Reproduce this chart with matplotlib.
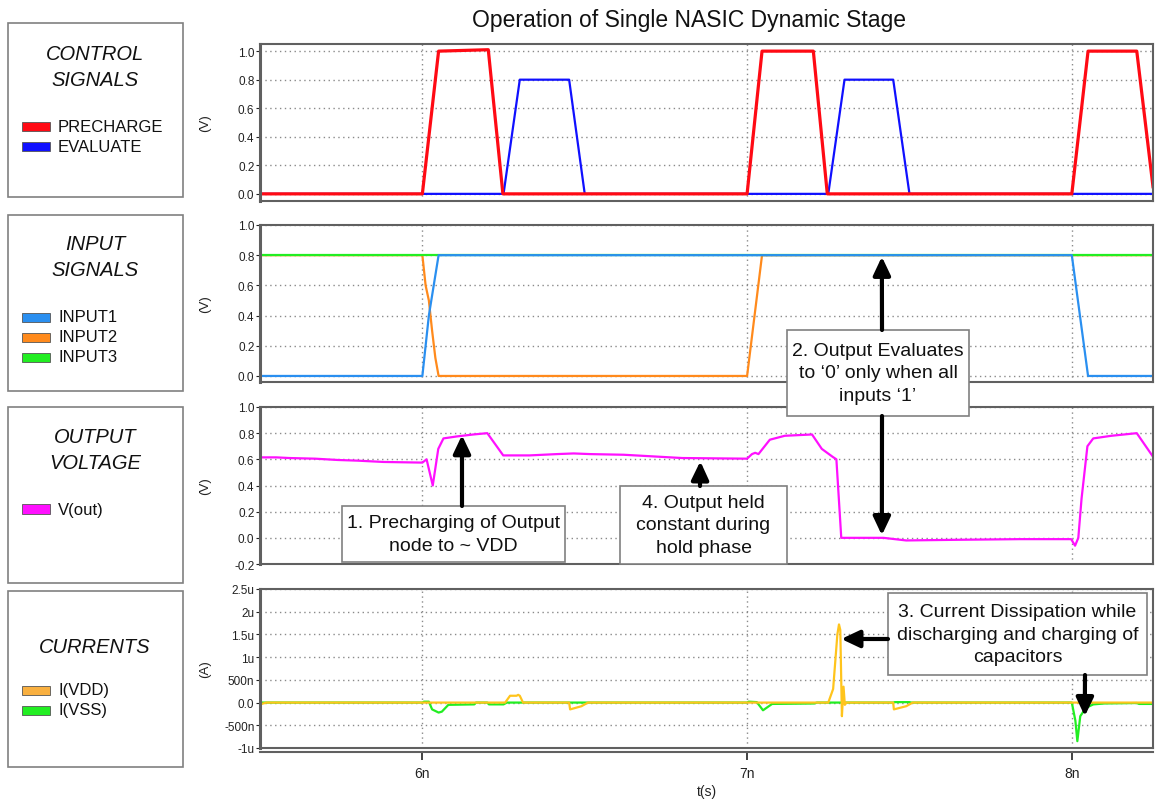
import matplotlib
matplotlib.use('Agg')
import matplotlib.pyplot as plt
from matplotlib.patches import Rectangle, ConnectionPatch

plt.rcParams['font.family'] = ['Liberation Sans', 'DejaVu Sans']

# ---- data (time in ns) ----
pre_t = [5.5, 6.0, 6.05, 6.203, 6.248, 7.0, 7.046, 7.204, 7.247, 8.0, 8.05, 8.2, 8.25]
pre_v = [0.0, 0.0, 1.0, 1.01, 0.0, 0.0, 1.0, 1.0, 0.0, 0.0, 1.0, 1.0, 0.05]
eval_t = [5.5, 5.503, 6.25, 6.30, 6.452, 6.50, 7.25, 7.30, 7.45, 7.50, 8.25]
eval_v = [0.1, 0.0, 0.0, 0.8, 0.8, 0.0, 0.0, 0.8, 0.8, 0.0, 0.0]

in1_t = [5.5, 6.0, 6.01, 6.02, 6.035, 6.05, 8.0, 8.05, 8.25]
in1_v = [0.0, 0.0, 0.2, 0.4, 0.6, 0.8, 0.8, 0.0, 0.0]
in2_t = [5.5, 6.0, 6.005, 6.01, 6.02, 6.03, 6.04, 6.05, 7.0, 7.046, 8.25]
in2_v = [0.8, 0.8, 0.7, 0.6, 0.5, 0.3, 0.12, 0.0, 0.0, 0.8, 0.8]
in3_t = [5.5, 8.25]
in3_v = [0.8, 0.8]

vout_t = [5.5, 5.55, 5.59, 5.67, 5.74, 5.80, 5.88, 6.0, 6.013, 6.032,
          6.049, 6.065, 6.106, 6.157, 6.2, 6.249, 6.33, 6.414, 6.466, 6.517,
          6.62, 6.80, 7.0, 7.015, 7.025, 7.035, 7.07, 7.116, 7.20, 7.23,
          7.263, 7.275, 7.29, 7.42, 7.49, 7.647, 7.84, 7.998, 8.01, 8.02,
          8.03, 8.048, 8.066, 8.122, 8.2, 8.25]
vout_v = [0.615, 0.615, 0.61, 0.605, 0.595, 0.59, 0.58, 0.575, 0.6, 0.4,
          0.68, 0.76, 0.775, 0.79, 0.8, 0.63, 0.63, 0.64, 0.645, 0.64,
          0.635, 0.61, 0.605, 0.64, 0.65, 0.64, 0.75, 0.78, 0.79, 0.68,
          0.62, 0.6, 0.0, 0.0, -0.02, -0.015, -0.01, -0.01, -0.06, 0.0,
          0.3, 0.7, 0.76, 0.78, 0.80, 0.62]

# currents in uA
idd_t = [5.5, 5.505, 5.52, 6.255, 6.27, 6.29, 6.295, 6.30, 6.31, 6.452,
         6.455, 6.49, 6.505, 6.51, 7.25, 7.265, 7.278, 7.283, 7.287, 7.292,
         7.297, 7.301, 7.306, 7.45, 7.452, 7.49, 7.505, 7.51, 8.25]
idd_v = [-0.05, -0.03, 0.0, 0.0, 0.15, 0.15, 0.17, 0.15, 0.0, 0.0,
         -0.15, -0.08, -0.02, 0.0, 0.0, 0.3, 1.5, 1.72, 1.6, -0.3,
         0.35, -0.05, 0.0, 0.0, -0.15, -0.08, -0.02, 0.0, 0.0]
iss_t = [5.5, 5.505, 5.51, 6.0, 6.005, 6.02, 6.03, 6.05, 6.06, 6.08,
         6.16, 6.165, 6.2, 6.205, 6.25, 6.26, 6.5, 7.0, 7.005, 7.03,
         7.049, 7.077, 7.207, 7.215, 7.45, 7.455, 7.5, 7.505, 8.0, 8.011,
         8.017, 8.026, 8.043, 8.066, 8.10, 8.2, 8.207, 8.25]
iss_v = [0.05, 0.0, 0.0, 0.0, 0.02, 0.02, -0.15, -0.22, -0.2, -0.05,
         -0.04, 0.0, 0.0, -0.04, -0.04, 0.0, 0.0, 0.0, 0.02, 0.01,
         -0.17, -0.03, -0.02, 0.0, 0.0, 0.01, 0.01, 0.0, 0.0, -0.4,
         -0.85, -0.3, -0.12, -0.04, -0.02, -0.01, -0.03, -0.03]

x_ticks = [6, 7, 8]
x_labels = ['6n', '7n', '8n']
v_ticks = [0.0, 0.2, 0.4, 0.6, 0.8, 1.0]
vout_ticks = [-0.2, 0.0, 0.2, 0.4, 0.6, 0.8, 1.0]
cur_ticks = [-1, -0.5, 0, 0.5, 1, 1.5, 2, 2.5]
cur_labels = ['-1u', '-500n', '0.0', '500n', '1u', '1.5u', '2u', '2.5u']

W, H = 1155, 803
fig = plt.figure(figsize=(W / 100, H / 100), dpi=100)


def fx(x):
    return x / W


def fy(y):
    return 1 - y / H


def make_ax(top, bottom):
    ax = fig.add_axes([fx(260), fy(bottom), fx(1153) - fx(260), fy(top) - fy(bottom)])
    ax.set_xlim(5.5, 8.25)
    ax.set_xticks(x_ticks)
    ax.grid(True, color='#8a8a8a', linestyle=(0, (1, 2.5)), linewidth=1)
    for s in ax.spines.values():
        s.set_color('#606060')
        s.set_linewidth(1.5)
    ax.spines['left'].set_linewidth(2.2)
    ax.tick_params(axis='y', length=3, pad=1, labelsize=8.5, colors='#222222')
    ax.tick_params(axis='x', length=0, labelbottom=False)
    return ax


ax1 = make_ax(45, 202)
ax1.plot(eval_t, eval_v, color='#1010ff', lw=1.6)
ax1.plot(pre_t, pre_v, color='#ff0a14', lw=2.3)
ax1.set_ylim(-0.05, 1.05)
ax1.set_yticks(v_ticks)
ax1.set_yticklabels(['%.1f' % v for v in v_ticks])

ax2 = make_ax(226, 383)
ax2.plot(in2_t, in2_v, color='#ff8a1c', lw=1.6)
ax2.plot(in3_t, in3_v, color='#22ee22', lw=1.6)
ax2.plot(in1_t, in1_v, color='#2a8ff0', lw=1.6)
ax2.set_ylim(-0.04, 1.0)
ax2.set_yticks(v_ticks)
ax2.set_yticklabels(['%.1f' % v for v in v_ticks])

ax3 = make_ax(408, 565)
ax3.plot(vout_t, vout_v, color='#ff10ff', lw=1.6)
ax3.set_ylim(-0.2, 1.0)
ax3.set_yticks(vout_ticks)
ax3.set_yticklabels(['%.1f' % v for v in vout_ticks])

ax4 = make_ax(590, 749)
ax4.plot(iss_t, iss_v, color='#22ee22', lw=1.6)
ax4.plot(idd_t, idd_v, color='#ffc41c', lw=1.6)
ax4.set_ylim(-1, 2.5)
ax4.set_yticks(cur_ticks)
ax4.set_yticklabels(cur_labels)
ax4.spines['bottom'].set_position(('outward', 3))
ax4.plot([0, 1], [0, 0], transform=ax4.transAxes, color='#606060', lw=1.5, clip_on=False)
ax4.tick_params(axis='x', length=6, width=1.2, labelbottom=True, labelsize=10,
                colors='#222222', pad=4)
ax4.set_xticklabels(x_labels)
ax4.set_xlabel('t(s)', fontsize=10, color='#222222', labelpad=3)

for ax, lab in [(ax1, '(V)'), (ax2, '(V)'), (ax3, '(V)'), (ax4, '(A)')]:
    ax.set_ylabel(lab, fontsize=9.5, color='#222222')
    ax.yaxis.set_label_coords(-0.055, 0.5)

fig.text(fx(689), fy(20), 'Operation of Single NASIC Dynamic Stage',
         ha='center', va='center', fontsize=16.5, color='#111111')


def fig_rect(x0, y0, x1, y1, **kw):
    r = Rectangle((fx(x0), fy(y1)), fx(x1) - fx(x0), fy(y0) - fy(y1),
                  transform=fig.transFigure, **kw)
    fig.add_artist(r)


# ---- left side legend boxes ----
side_boxes = [
    (24, 198, ['CONTROL', 'SIGNALS'], [55, 80],
     [('PRECHARGE', '#ff0a14', 127), ('EVALUATE', '#1010ff', 147)]),
    (216, 392, ['INPUT', 'SIGNALS'], [245, 271],
     [('INPUT1', '#2a8ff0', 318), ('INPUT2', '#ff8a1c', 338), ('INPUT3', '#22ee22', 358)]),
    (408, 584, ['OUTPUT', 'VOLTAGE'], [438, 464],
     [('V(out)', '#ff10ff', 510)]),
    (592, 768, ['CURRENTS'], [648],
     [('I(VDD)', '#f9b040', 691), ('I(VSS)', '#22ee22', 711)]),
]
for top, bot, titles, ty, items in side_boxes:
    fig_rect(8, top, 183, bot, facecolor='white', edgecolor='#808080', lw=1.2)
    for t, y in zip(titles, ty):
        fig.text(fx(95), fy(y), t, ha='center', va='center', fontsize=14.5,
                 style='italic', color='#111111')
    for name, col, y in items:
        fig_rect(22, y - 4.5, 50, y + 4.5, facecolor=col, edgecolor='#555555', lw=0.6)
        fig.text(fx(58), fy(y), name, ha='left', va='center', fontsize=12, color='#111111')

# ---- annotation boxes ----
notes = [
    (342, 507, 565, 563, '1. Precharging of Output\nnode to ~ VDD'),
    (620, 487, 787, 565, '4. Output held\nconstant during\nhold phase'),
    (787, 331, 969, 417, '2. Output Evaluates\nto \u20180\u2019 only when all\ninputs \u20181\u2019'),
    (888, 594, 1147, 676, '3. Current Dissipation while\ndischarging and charging of\ncapacitors'),
]
for x0, y0, x1, y1, txt in notes:
    fig_rect(x0, y0, x1, y1, facecolor='white', edgecolor='#808080', lw=1.2, zorder=4)
    fig.text(fx((x0 + x1) / 2), fy((y0 + y1) / 2), txt, ha='center', va='center',
             fontsize=14, color='#111111', linespacing=1.4, zorder=5)

arrows = [
    ((462, 507), ax3, (6.122, 0.785)),
    ((700, 487), ax3, (6.856, 0.585)),
    ((882, 331), ax2, (7.415, 0.79)),
    ((882, 417), ax3, (7.415, 0.02)),
    ((888, 640), ax4, (7.29, 1.4)),
    ((1085, 676), ax4, (8.04, -0.3)),
]
for (sx, sy), ax, (tx, ty) in arrows:
    cp = ConnectionPatch(xyA=(fx(sx), fy(sy)), coordsA='figure fraction',
                         xyB=(tx, ty), coordsB=ax.transData,
                         arrowstyle='-|>,head_length=0.55,head_width=0.26',
                         mutation_scale=20, lw=3, color='black',
                         shrinkA=0, shrinkB=0, zorder=6)
    fig.add_artist(cp)

fig.savefig('out.png', dpi=100)
